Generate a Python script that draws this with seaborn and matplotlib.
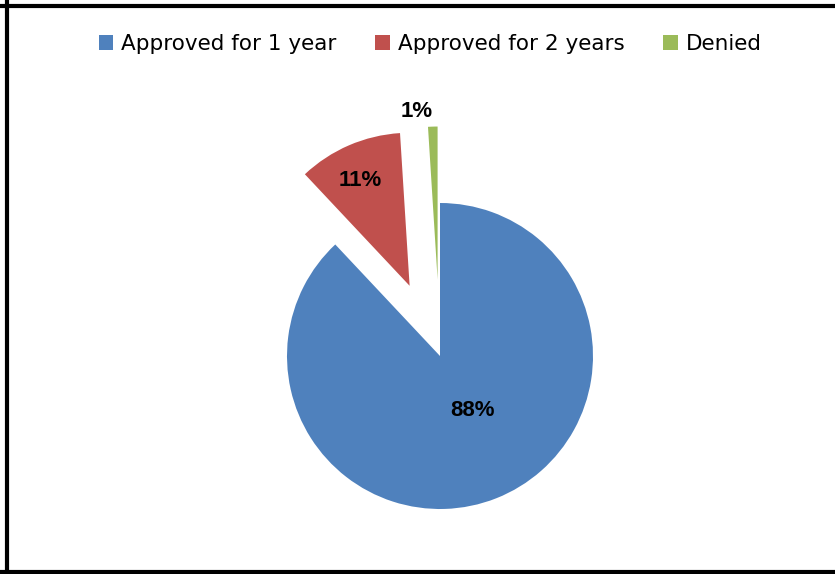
import matplotlib
matplotlib.use("Agg")
import matplotlib.pyplot as plt
from matplotlib.lines import Line2D
import seaborn as sns

categories = ["Approved for 1 year", "Approved for 2 years", "Denied"]
values = [88, 11, 1]
pct_labels = ["88%", "11%", "1%"]
colors = ["#4F81BD", "#C0504D", "#9BBB59"]

sns.set_theme(style="white")
plt.rcParams["font.family"] = ["Liberation Sans", "DejaVu Sans"]
plt.rcParams["text.color"] = "black"

W, H = 835, 574
fig = plt.figure(figsize=(W / 100, H / 100), dpi=100)
fig.patch.set_facecolor("white")
ax = fig.add_axes([0, 0, 1, 1])
ax.set_facecolor("none")

cx, cy, r = 440, 356, 153  # pixel centre / radius

wedges, _ = ax.pie(values, colors=sns.color_palette(colors), startangle=90,
                   counterclock=False, explode=[0, 0.5, 0.5],
                   wedgeprops=dict(linewidth=0))
ax.set_aspect("auto")
ax.set_xlim(-cx / r, (W - cx) / r)
ax.set_ylim(-(H - cy) / r, cy / r)
ax.axis("off")

label_pos = [(0.215, -0.353), (-0.523, 1.150), (-0.150, 1.595)]
for txt, (x, y) in zip(pct_labels, label_pos):
    ax.text(x, y, txt, ha="center", va="center", fontsize=16,
            fontweight="bold", color="black")

leg = ax.legend(wedges, categories, loc="center", bbox_to_anchor=(430 / W, 1 - 44 / H),
                bbox_transform=fig.transFigure, ncol=3, frameon=False,
                prop={"family": "DejaVu Sans", "size": 15.5},
                handlelength=0.68, handleheight=0.68,
                handletextpad=0.36, columnspacing=1.8)
for t in leg.get_texts():
    t.set_color("black")

for coords in [((0, 1), (1 - 5.5 / H, 1 - 5.5 / H)),
               ((7 / W, 7 / W), (0, 1)),
               ((0, 1), (2 / H, 2 / H))]:
    fig.add_artist(Line2D(coords[0], coords[1], color="black", linewidth=3,
                          transform=fig.transFigure))

fig.savefig("out.png", dpi=100, facecolor="white")
